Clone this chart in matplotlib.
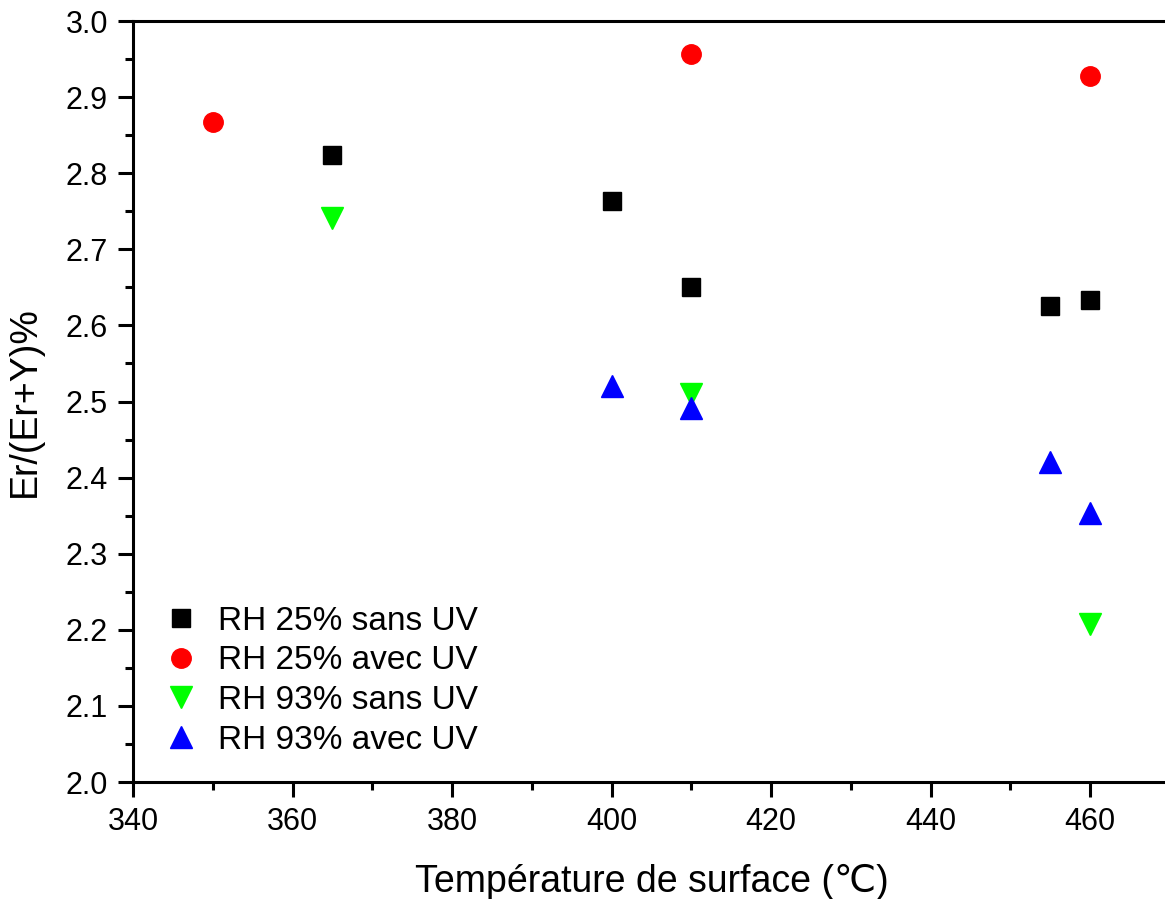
import matplotlib
matplotlib.use("Agg")
import matplotlib.pyplot as plt
from matplotlib.ticker import MultipleLocator

plt.rcParams['font.family'] = ['Liberation Sans', 'DejaVu Sans']

x_25_sans = [365, 400, 410, 455, 460]
y_25_sans = [2.824, 2.763, 2.651, 2.626, 2.633]
x_25_avec = [350, 410, 460]
y_25_avec = [2.867, 2.957, 2.928]
x_93_sans = [365, 410, 460]
y_93_sans = [2.741, 2.510, 2.208]
x_93_avec = [400, 410, 455, 460]
y_93_avec = [2.521, 2.491, 2.420, 2.353]
labels = ["RH 25% sans UV", "RH 25% avec UV", "RH 93% sans UV", "RH 93% avec UV"]

fig = plt.figure(figsize=(11.65, 8.99), dpi=100)
ax = fig.add_axes([0.1142, 0.1301, 0.8900, 0.8465])

ax.plot(x_25_sans, y_25_sans, ls='none', marker='s', ms=12.5, color='black', label=labels[0])
ax.plot(x_25_avec, y_25_avec, ls='none', marker='o', ms=14, color='#ff0000', label=labels[1])
ax.plot(x_93_sans, y_93_sans, ls='none', marker='v', ms=16, color='#00ff00', label=labels[2])
ax.plot(x_93_avec, y_93_avec, ls='none', marker='^', ms=16, color='#0000ff', label=labels[3])

ax.set_xlim(340, 470)
ax.set_ylim(2.0, 3.0)
ax.xaxis.set_major_locator(MultipleLocator(20))
ax.xaxis.set_minor_locator(MultipleLocator(10))
ax.yaxis.set_major_locator(MultipleLocator(0.1))
ax.yaxis.set_minor_locator(MultipleLocator(0.05))
ax.yaxis.set_major_formatter(plt.FormatStrFormatter('%.1f'))

for s in ax.spines.values():
    s.set_linewidth(2.2)
ax.tick_params(which='major', direction='out', length=11, width=2.2, labelsize=22, pad=7)
ax.tick_params(which='minor', direction='out', length=6, width=2.2)

ax.set_xlabel("Température de surface (℃)", fontsize=27, labelpad=19)
ax.set_ylabel("Er/(Er+Y)%", fontsize=27, labelpad=16)

ax.legend(loc='lower left', bbox_to_anchor=(0.0, 0.0), frameon=False, fontsize=24,
          handletextpad=0.45, labelspacing=0.26, borderaxespad=0.39, handlelength=1.3)

fig.savefig("out.png", dpi=100)
